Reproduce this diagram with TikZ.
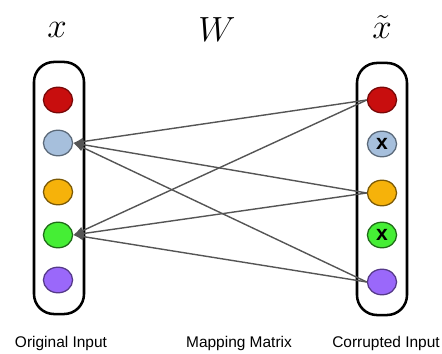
\documentclass[tikz,border=0pt]{standalone}
\usepackage{fontspec}
\setsansfont{Liberation Sans}
\usepackage{tikz}
\usetikzlibrary{arrows.meta,shapes.geometric}
\definecolor{redu}{HTML}{C80E0E}
\definecolor{bluu}{HTML}{A6BFDC}
\definecolor{oran}{HTML}{F6B20A}
\definecolor{gren}{HTML}{45EE35}
\definecolor{purp}{HTML}{9A68FA}
\definecolor{wire}{HTML}{555555}

\begin{document}
\begin{tikzpicture}[x=0.025cm,y=-0.025cm,>=Latex,
  unit/.style={ellipse,inner sep=0pt,minimum width=0.73cm,minimum height=0.64cm,line width=0.9pt},
  layer/.style={draw,line width=1.8pt,rounded corners=0.5cm,minimum width=1.25cm,minimum height=6.3cm},
  link/.style={<-,line width=1pt,draw=wire},
  caption/.style={font=\sffamily\fontsize{11}{13}\selectfont},
  symb/.style={font=\fontsize{25}{28}\selectfont}]
\useasboundingbox (0,0) rectangle (442,354);
% input layer
\node[layer] (inbox) at (59,188) {};
\node[unit,fill=redu,draw=redu!60!black] (l1) at (58,100) {};
\node[unit,fill=bluu,draw=bluu!55!black] (l2) at (58,143) {};
\node[unit,fill=oran,draw=oran!50!black] (l3) at (58,192) {};
\node[unit,fill=gren,draw=gren!45!black] (l4) at (58,235) {};
\node[unit,fill=purp,draw=purp!55!black] (l5) at (58,280) {};
% corrupted layer
\node[layer] (outbox) at (382,189) {};
\node[unit,fill=redu,draw=redu!60!black] (r1) at (382,100) {};
\node[unit,fill=bluu,draw=bluu!55!black,font=\sffamily\bfseries\fontsize{15}{15}\selectfont] (r2) at (382,144) {x};
\node[unit,fill=oran,draw=oran!50!black] (r3) at (382,193) {};
\node[unit,fill=gren,draw=gren!45!black,font=\sffamily\bfseries\fontsize{15}{15}\selectfont] (r4) at (382,235) {x};
\node[unit,fill=purp,draw=purp!55!black] (r5) at (382,282) {};
% mapping
\draw[link] (l2.east) -- (r1.west); \draw[link] (l2.east) -- (r3.west); \draw[link] (l2.east) -- (r5.west);
\draw[link] (l4.east) -- (r1.west); \draw[link] (l4.east) -- (r3.west); \draw[link] (l4.east) -- (r5.west);
% labels
\node[symb] (xlab) at (57,30) {$x$};
\node[symb] (wlab) at (217,30) {$W$};
\node[symb] (xtlab) at (382,27) {$\tilde{x}$};
\node[caption] (orig) at (61,344) {Original Input};
\node[caption] (mapm) at (239,344) {Mapping Matrix};
\node[caption] (corr) at (386,344) {Corrupted Input};
\end{tikzpicture}
\end{document}
